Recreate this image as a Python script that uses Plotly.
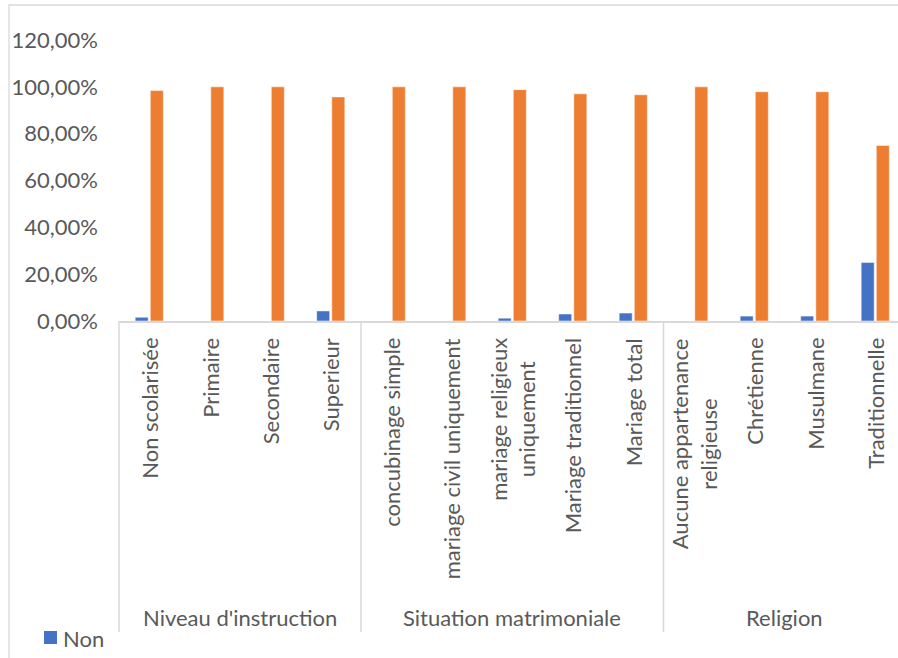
import plotly.graph_objects as go

categories = ["Non scolarisée", "Primaire", "Secondaire", "Superieur",
              "concubinage simple", "mariage civil uniquement", "mariage religieux<br>uniquement",
              "Mariage traditionnel", "Mariage total",
              "Aucune appartenance<br>religieuse", "Chrétienne", "Musulmane", "Traditionnelle"]
groups = ["Niveau d'instruction", "Situation matrimoniale", "Religion"]
group_sizes = [4, 5, 4]
non_values = [1.6, 0.0, 0.0, 4.3, 0.0, 0.0, 1.2, 3.0, 3.4, 0.0, 2.1, 2.1, 25.0]
oui_values = [98.4, 100.0, 100.0, 95.7, 100.0, 100.0, 98.8, 97.0, 96.6, 100.0, 97.9, 97.9, 75.0]
y_tick_values = [0, 0.2, 0.4, 0.6, 0.8, 1.0, 1.2]
series_names = ["Non", "Oui"]
series_colors = ["#4472C4", "#ED7D31"]

W, H = 898, 658
L, T, B_PX = 119, 40, 321          # plot left, top, baseline pixel
CAT_W = 60.5
plot_w = W - L
plot_h = B_PX - T
x_end = -0.5 + plot_w / CAT_W

FONT = "Lato"
FS = 22
GREY = "#595959"
LINE = "#d9d9d9"

def fx(pix):
    return (pix - L) / plot_w

def px_x(v):
    return (v - (-0.5)) / (x_end + 0.5)

def py(pix):
    return (B_PX - pix) / plot_h

xs = list(range(len(categories)))

fig = go.Figure()
for name, vals, col in zip(series_names, [non_values, oui_values], series_colors):
    fig.add_trace(go.Bar(x=xs, y=[v / 100 for v in vals], name=name, showlegend=False,
                         marker=dict(color=col, line=dict(color="#ffffff", width=0.5))))

shapes = []
# chart border
shapes.append(dict(type="rect", xref="paper", yref="paper", x0=fx(9), x1=2,
                   y0=-3, y1=py(5), line=dict(color=LINE, width=1.3),
                   fillcolor="rgba(0,0,0,0)", layer="below"))
# group dividers
bounds = [-0.5]
acc = -0.5
for s in group_sizes:
    acc += s
    bounds.append(acc)
for bnd in bounds:
    if bnd < x_end:
        shapes.append(dict(type="line", xref="paper", yref="paper", x0=px_x(bnd), x1=px_x(bnd),
                           y0=0, y1=py(632), line=dict(color=LINE, width=1.5)))
# legend key (only "Non" visible in the reference)
shapes.append(dict(type="rect", xref="paper", yref="paper", x0=fx(44), x1=fx(57),
                   y0=py(644), y1=py(631), fillcolor=series_colors[0], line=dict(width=0)))

annotations = []
for i, c in enumerate(categories):
    annotations.append(dict(x=i, y=py(336), xref="x", yref="paper", text=c, textangle=-90,
                            showarrow=False, xanchor="center", yanchor="top", align="center",
                            font=dict(family=FONT, size=FS, color=GREY)))
start = -0.5
for g, s in zip(groups, group_sizes):
    annotations.append(dict(x=start + s / 2, y=py(617), xref="x", yref="paper", text=g,
                            showarrow=False, xanchor="center", yanchor="middle",
                            font=dict(family=FONT, size=FS, color=GREY)))
    start += s
annotations.append(dict(x=fx(61), y=py(638), xref="paper", yref="paper", text=series_names[0],
                        showarrow=False, xanchor="left", yanchor="middle",
                        font=dict(family=FONT, size=FS, color=GREY)))

fig.update_layout(
    width=W, height=H,
    margin=dict(l=L, r=0, t=T, b=H - B_PX, pad=0),
    paper_bgcolor="white", plot_bgcolor="white",
    barmode="group", bargap=0.5, bargroupgap=0.14,
    separators=", ",
    font=dict(family=FONT, size=FS, color=GREY),
    shapes=shapes, annotations=annotations,
    showlegend=False,
    xaxis=dict(range=[-0.5, x_end], showticklabels=False, showgrid=False, zeroline=False,
               showline=True, linecolor=LINE, linewidth=2, ticks=""),
    yaxis=dict(range=[0, 1.2], tickvals=y_tick_values, tickformat=".2%", showgrid=False,
               zeroline=False, showline=False, ticks="", ticklabelstandoff=20,
               tickfont=dict(family=FONT, size=FS, color=GREY)),
)

fig.write_html("out.html")
